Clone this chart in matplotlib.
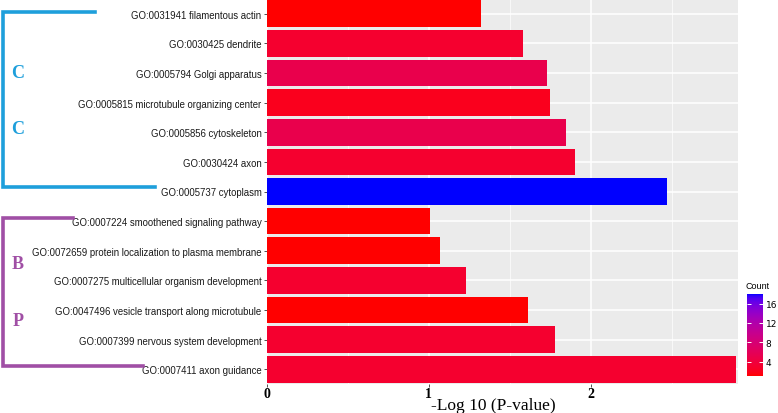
import numpy as np
import matplotlib
matplotlib.use("Agg")
from matplotlib import pyplot as plt
from matplotlib.colors import ListedColormap, Normalize
from matplotlib.cm import ScalarMappable
from matplotlib.lines import Line2D

# dane (od gory do dolu)
terms = [
    "GO:0031941 filamentous actin",
    "GO:0030425 dendrite",
    "GO:0005794 Golgi apparatus",
    "GO:0005815 microtubule organizing center",
    "GO:0005856 cytoskeleton",
    "GO:0030424 axon",
    "GO:0005737 cytoplasm",
    "GO:0007224 smoothened signaling pathway",
    "GO:0072659 protein localization to plasma membrane",
    "GO:0007275 multicellular organism development",
    "GO:0047496 vesicle transport along microtubule",
    "GO:0007399 nervous system development",
    "GO:0007411 axon guidance",
]
logp = [1.32, 1.58, 1.73, 1.75, 1.85, 1.90, 2.47,
        1.01, 1.07, 1.23, 1.61, 1.78, 2.90]
counts = [1, 3, 5, 2, 5, 3, 18, 1, 1, 3, 1, 3, 3]
cbar_ticks = [4, 8, 12, 16]
x_ticks = [0, 1, 2]


def srgb_to_lab(rgb):
    c = np.asarray(rgb, float)
    lin = np.where(c <= 0.04045, c / 12.92, ((c + 0.055) / 1.055) ** 2.4)
    M = np.array([[0.4124, 0.3576, 0.1805],
                  [0.2126, 0.7152, 0.0722],
                  [0.0193, 0.1192, 0.9505]])
    xyz = M @ lin / np.array([0.95047, 1.0, 1.08883])
    d = 6 / 29
    f = np.where(xyz > d ** 3, np.cbrt(xyz), xyz / (3 * d * d) + 4 / 29)
    return np.array([116 * f[1] - 16, 500 * (f[0] - f[1]), 200 * (f[1] - f[2])])


def lab_to_srgb(lab):
    L, a, b = lab
    fy = (L + 16) / 116
    fx = fy + a / 500
    fz = fy - b / 200
    d = 6 / 29
    f = np.array([fx, fy, fz])
    xyz = np.where(f > d, f ** 3, 3 * d * d * (f - 4 / 29))
    xyz = xyz * np.array([0.95047, 1.0, 1.08883])
    Minv = np.linalg.inv(np.array([[0.4124, 0.3576, 0.1805],
                                   [0.2126, 0.7152, 0.0722],
                                   [0.0193, 0.1192, 0.9505]]))
    lin = np.clip(Minv @ xyz, 0, 1)
    c = np.where(lin <= 0.0031308, 12.92 * lin, 1.055 * lin ** (1 / 2.4) - 0.055)
    return np.clip(c, 0, 1)


# gradient czerwony -> niebieski w przestrzeni Lab (jak w ggplot)
lab_lo = srgb_to_lab([1, 0, 0])
lab_hi = srgb_to_lab([0, 0, 1])
cmap = ListedColormap([lab_to_srgb(lab_lo + t * (lab_hi - lab_lo))
                       for t in np.linspace(0, 1, 256)])
norm = Normalize(min(counts), max(counts))

fig = plt.figure(figsize=(7.78, 4.14), dpi=100, facecolor="white")
ax = fig.add_axes([267 / 778, 1 - 385 / 414, (738 - 267) / 778, 385 / 414])
ax.set_facecolor("#EBEBEB")

n = len(terms)
y = np.arange(n)
ax.barh(y, logp, height=0.9, color=cmap(norm(np.array(counts))), zorder=3)

ax.set_xlim(0, 2.91)
ax.set_ylim(n - 0.5, -0.5)
ax.set_yticks(y)
ax.set_yticklabels(terms, fontsize=6.9, family="Liberation Sans", color="#1a1a1a")
ax.set_xticks(x_ticks)
ax.set_xticklabels([str(t) for t in x_ticks], fontsize=10, family="Liberation Serif",
                   fontweight="bold")
ax.set_xticks([0.5, 1.5, 2.5], minor=True)
ax.grid(True, which="major", color="white", linewidth=1.1, zorder=0)
ax.grid(True, which="minor", axis="x", color="white", linewidth=0.5, zorder=0)
ax.tick_params(axis="both", which="major", length=2.5, width=0.6, color="#333333", pad=1.5)
ax.tick_params(axis="x", which="major", pad=0)
ax.tick_params(axis="x", which="minor", length=0)
for s in ax.spines.values():
    s.set_visible(False)
fig.text(493 / 778, 1 - 406 / 414, "-Log 10 (P-value)", fontsize=12.5,
         family="Liberation Serif", ha="center", va="center")

# pasek kolorow
cax = fig.add_axes([747 / 778, 1 - 377 / 414, 16 / 778, 82 / 414])
cb = fig.colorbar(ScalarMappable(norm=norm, cmap=cmap), cax=cax, ticks=cbar_ticks)
cb.outline.set_visible(False)
cax.tick_params(direction="in", color="white", length=3, width=0.7,
                left=True, right=True, labelsize=6.5, pad=2)
fig.text(745 / 778, 1 - 287 / 414, "Count", fontsize=6.5, family="Liberation Sans",
         va="center", ha="left")

# nawiasy grup po lewej stronie
blue = "#1E9FDB"
purple = "#A04FA5"


def nawias(x0, x1, ytop, ybot, kolor):
    px = [x0, 3, 3, x1]
    py = [ytop, ytop, ybot, ybot]
    fig.add_artist(Line2D([p / 778 for p in px], [1 - p / 414 for p in py],
                          color=kolor, linewidth=2.6, transform=fig.transFigure,
                          solid_joinstyle="miter"))


nawias(95, 155, 13, 188, blue)
nawias(73, 143, 219, 367, purple)
for lit, py, kolor in [("C", 73, blue), ("C", 130, blue), ("B", 265, purple), ("P", 322, purple)]:
    fig.text(18 / 778, 1 - py / 414, lit, fontsize=13, family="Liberation Serif",
             fontweight="bold", color=kolor, ha="center", va="center")

fig.savefig("out.png", dpi=100, facecolor="white")
